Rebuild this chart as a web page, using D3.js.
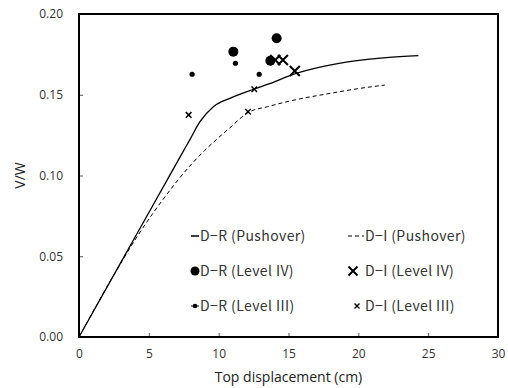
<!DOCTYPE html>
<html>
<head>
<meta charset="utf-8">
<script src="https://cdn.jsdelivr.net/npm/d3@7"></script>
<style>
  body { margin: 0; background: #fff; }
  svg { display: block; }
</style>
</head>
<body>
<div id="chart"></div>
<script>
// pushover curves [displacement cm, V/W]
const drPushover = [[0, 0], [3, 0.0462], [7.2, 0.1109], [7.95, 0.1224], [8.66, 0.1333], [9.62, 0.1426],
  [10.8, 0.1478], [12.5, 0.1534], [13.7, 0.157], [15.2, 0.1622], [17.5, 0.1675], [19.9, 0.1711],
  [22, 0.173], [24.3, 0.1742]];
const diPushover = [[0, 0], [2.5, 0.0385], [4.0, 0.060], [6.0, 0.085], [8.0, 0.1065], [9.0, 0.1155],
  [10.0, 0.1235], [10.8, 0.1295], [12.1, 0.139], [13.5, 0.1426], [15.2, 0.1463], [18.0, 0.1509],
  [20.0, 0.1538], [21.9, 0.156]];

const drLevel4 = [[11.05, 0.1767], [14.15, 0.185], [13.7, 0.1711]];
const drLevel3 = [[8.1, 0.1627], [11.2, 0.1695], [12.9, 0.1627]];
const diLevel4 = [[14.05, 0.1715], [14.6, 0.1715], [15.45, 0.1647]];
const diLevel3 = [[7.85, 0.1375], [12.1, 0.1395], [12.55, 0.1534]];

const xTicks = [0, 5, 10, 15, 20, 25, 30];
const yTicks = [0, 0.05, 0.10, 0.15, 0.20];

const width = 508;
const height = 388;
const margin = { top: 14, right: 10, bottom: 51, left: 79 };

const svg = d3.select('#chart')
  .append('svg')
  .attr('width', width)
  .attr('height', height);

const x = d3.scaleLinear().domain([0, 30]).range([margin.left, width - margin.right]);
const y = d3.scaleLinear().domain([0, 0.2]).range([height - margin.bottom, margin.top]);

const tickFont = '"Open Sans", "Noto Sans", sans-serif';
const legendFont = '"Noto Sans CJK KR", "DejaVu Sans", sans-serif';

// axes with inward ticks
svg.append('g')
  .attr('transform', `translate(0, ${y(0)})`)
  .call(d3.axisBottom(x).tickValues(xTicks).tickSizeInner(-4).tickSizeOuter(0).tickPadding(12))
  .call(g => g.select('.domain').remove())
  .call(g => g.selectAll('line').attr('stroke', '#555'))
  .call(g => g.selectAll('text').style('font-family', tickFont).style('font-size', '12px').attr('fill', '#333'));

svg.append('g')
  .attr('transform', `translate(${x(0)}, 0)`)
  .call(d3.axisLeft(y).tickValues(yTicks).tickFormat(d3.format('.2f')).tickSizeInner(-4).tickSizeOuter(0).tickPadding(16))
  .call(g => g.select('.domain').remove())
  .call(g => g.selectAll('line').attr('stroke', '#555'))
  .call(g => g.selectAll('text').style('font-family', tickFont).style('font-size', '12px').attr('fill', '#333'));

// frame
svg.append('rect')
  .attr('x', x(0))
  .attr('y', y(0.2))
  .attr('width', x(30) - x(0))
  .attr('height', y(0) - y(0.2))
  .attr('fill', 'none')
  .attr('stroke', '#000')
  .attr('stroke-width', 2);

const line = d3.line()
  .x(d => x(d[0]))
  .y(d => y(d[1]))
  .curve(d3.curveMonotoneX);

svg.append('path')
  .datum(diPushover)
  .attr('fill', 'none')
  .attr('stroke', '#000')
  .attr('stroke-width', 1)
  .attr('stroke-dasharray', '4,3')
  .attr('d', line);

svg.append('path')
  .datum(drPushover)
  .attr('fill', 'none')
  .attr('stroke', '#000')
  .attr('stroke-width', 1.3)
  .attr('d', line);

function cross(g, cx, cy, r, w) {
  g.append('path')
    .attr('d', `M${cx - r},${cy - r}L${cx + r},${cy + r}M${cx - r},${cy + r}L${cx + r},${cy - r}`)
    .attr('stroke', '#000')
    .attr('stroke-width', w)
    .attr('fill', 'none');
}

const marks = svg.append('g');
diLevel3.forEach(d => cross(marks, x(d[0]), y(d[1]), 2.8, 1.5));
diLevel4.forEach(d => cross(marks, x(d[0]), y(d[1]), 5, 2));

marks.selectAll('circle.big')
  .data(drLevel4)
  .join('circle')
  .attr('class', 'big')
  .attr('cx', d => x(d[0]))
  .attr('cy', d => y(d[1]))
  .attr('r', 5)
  .attr('fill', '#000');

marks.selectAll('circle.small')
  .data(drLevel3)
  .join('circle')
  .attr('class', 'small')
  .attr('cx', d => x(d[0]))
  .attr('cy', d => y(d[1]))
  .attr('r', 2.6)
  .attr('fill', '#000');

// legend
const legend = svg.append('g');
const rows = [236, 271, 306];
const col1 = 200;
const col2 = 365;

legend.append('line')
  .attr('x1', col1 - 9).attr('x2', col1 - 1)
  .attr('y1', rows[0]).attr('y2', rows[0])
  .attr('stroke', '#000').attr('stroke-width', 1.5);
legend.append('circle').attr('cx', col1 - 5).attr('cy', rows[1]).attr('r', 4.5).attr('fill', '#000');
legend.append('line')
  .attr('x1', col1 - 9).attr('x2', col1 - 1)
  .attr('y1', rows[2]).attr('y2', rows[2])
  .attr('stroke', '#000').attr('stroke-width', 1);
legend.append('circle').attr('cx', col1 - 5).attr('cy', rows[2]).attr('r', 2.3).attr('fill', '#000');

legend.append('line')
  .attr('x1', col2 - 17).attr('x2', col2 - 1)
  .attr('y1', rows[0]).attr('y2', rows[0])
  .attr('stroke', '#000').attr('stroke-width', 1)
  .attr('stroke-dasharray', '4,3');
cross(legend, col2 - 12, rows[1], 4.5, 2);
cross(legend, col2 - 8, rows[2], 2.5, 1.4);

const legendItems = [
  [col1, rows[0], 'D−R (Pushover)'],
  [col2, rows[0], 'D−I (Pushover)'],
  [col1, rows[1], 'D−R (Level IV)'],
  [col2, rows[1], 'D−I (Level IV)'],
  [col1, rows[2], 'D−R (Level III)'],
  [col2, rows[2], 'D−I (Level III)']
];

legend.selectAll('text')
  .data(legendItems)
  .join('text')
  .attr('x', d => d[0])
  .attr('y', d => d[1])
  .attr('dy', '0.36em')
  .style('font-family', legendFont)
  .style('font-size', '14px')
  .style('letter-spacing', '0.4px')
  .attr('fill', '#333')
  .text(d => d[2]);

// axis titles
svg.append('text')
  .attr('x', (x(0) + x(30)) / 2)
  .attr('y', 382)
  .attr('text-anchor', 'middle')
  .style('font-family', tickFont)
  .style('font-size', '14px')
  .attr('fill', '#222')
  .text('Top displacement (cm)');

svg.append('text')
  .attr('transform', `translate(25, ${y(0.1)}) rotate(-90)`)
  .attr('text-anchor', 'middle')
  .style('font-family', tickFont)
  .style('font-size', '14px')
  .attr('fill', '#222')
  .text('V/W');
</script>
</body>
</html>
